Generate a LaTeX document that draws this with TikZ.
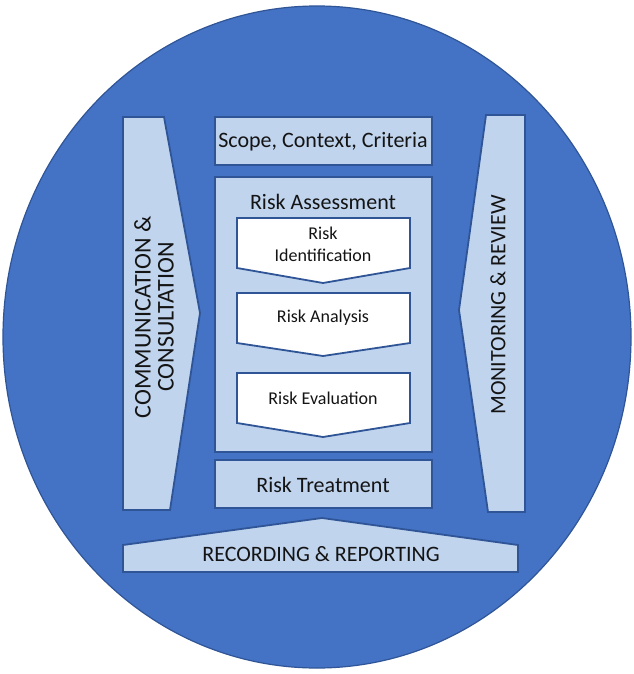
\documentclass[tikz,border=0pt]{standalone}
\usepackage{fontspec}
\setmainfont{Carlito}
\definecolor{circblue}{HTML}{4472C4}
\definecolor{edgeblue}{HTML}{2F5597}
\definecolor{lightfill}{HTML}{C0D4EE}
\definecolor{txt}{HTML}{141414}
\begin{document}
\begin{tikzpicture}[x=1pt,y=-1pt,
  panel/.style={draw=edgeblue,line width=1.8pt,fill=lightfill,line join=miter},
  whitepanel/.style={draw=edgeblue,line width=1.8pt,fill=white,line join=miter},
  lbl/.style={text=txt,inner sep=0pt,align=center,font=\fontsize{22}{24}\selectfont},
  sublbl/.style={text=txt,inner sep=0pt,align=center,font=\fontsize{18}{22}\selectfont}]
\useasboundingbox (0,0) rectangle (633,674);
\fill[white] (0,0) rectangle (633,674);
% big circle
\draw[fill=circblue,draw=edgeblue,line width=1.2pt] (317,337) ellipse [x radius=314, y radius=331];
% communication arrow
\draw[panel] (123,117) -- (164,117) -- (200,313) -- (170,510) -- (123,510) -- cycle;
\node[lbl,rotate=90,font=\fontsize{24}{23}\selectfont] (comm) at (154,317) {COMMUNICATION \&\\CONSULTATION};
% monitoring arrow
\draw[panel] (486,115) -- (525,115) -- (525,512) -- (488,512) -- (459,310) -- cycle;
\node[lbl,rotate=90] (mon) at (498,305) {MONITORING \& REVIEW};
% scope
\draw[panel] (215,117) rectangle (432,165);
\node[lbl] (scope) at (323,142) {Scope, Context, Criteria};
% risk assessment
\draw[panel] (215,177) rectangle (432,452);
\node[lbl] (ra) at (323,202) {Risk Assessment};
% inner chevrons
\draw[whitepanel] (237,218) -- (410,218) -- (410,268) -- (323,283) -- (237,268) -- cycle;
\node[sublbl] (rid) at (323,244) {Risk\\Identification};
\draw[whitepanel] (237,293) -- (410,293) -- (410,343) -- (323,356) -- (237,343) -- cycle;
\node[sublbl] (ran) at (323,318) {Risk Analysis};
\draw[whitepanel] (237,373) -- (410,373) -- (410,423) -- (323,437) -- (237,423) -- cycle;
\node[sublbl] (rev) at (323,398) {Risk Evaluation};
% risk treatment
\draw[panel] (215,460) rectangle (432,508);
\node[lbl] (rt) at (323,485) {Risk Treatment};
% recording
\draw[panel] (123,572) -- (123,545) -- (322,518) -- (518,545) -- (518,572) -- cycle;
\node[lbl] (rec) at (321,554) {RECORDING \& REPORTING};
\end{tikzpicture}
\end{document}
